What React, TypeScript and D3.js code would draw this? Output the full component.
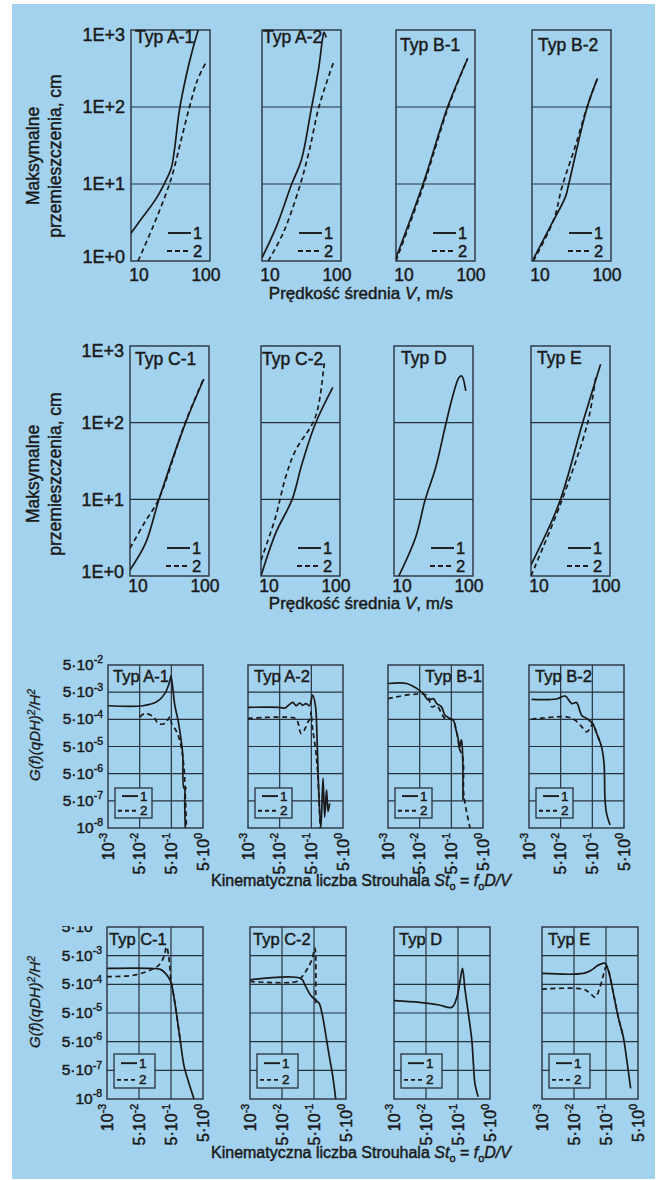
import React from "react";
import * as d3 from "d3";

const W = 658;
const H = 1180;
const BG = "#a3d2ee";
const INK = "#1a1a1a";
const GRID = "#27323d";
const FONT = "'Liberation Sans', Arial, Helvetica, sans-serif";
const TS = 0.45; // text stroke (heavier print look)

// ---------- Displacement vs. mean velocity (rows 1-2) ----------
const dispTickValues = [1, 10, 100, 1000];
const dispTickLabels = ["1E+0", "1E+1", "1E+2", "1E+3"];
const velTickValues = [10, 100];
const velTickLabels = ["10", "100"];

const dispA1_1: [number, number][] = [[10, 2.3], [14.3, 3.8], [20.9, 6.5], [27.9, 11.3], [32.3, 16], [35.5, 28], [41, 91], [49.7, 247], [60, 550], [71, 1000]];
const dispA1_2: [number, number][] = [[12.3, 1], [19, 2.8], [27.9, 7.6], [33.8, 13.8], [43, 37], [55, 100], [69.4, 224], [90, 390]];
const dispA2_1: [number, number][] = [[10, 1.1], [15.2, 2.8], [23.5, 9.7], [31.5, 20.5], [41.8, 91], [52.5, 333], [58.5, 780], [61, 930], [65, 800]];
const dispA2_2: [number, number][] = [[12, 1], [18.5, 2.3], [29.9, 9.2], [39.8, 27.6], [52.5, 100], [81, 389]];
const dispB1_1: [number, number][] = [[10, 1.1], [22, 10], [45, 100], [81, 430]];
const dispB1_2: [number, number][] = [[10, 1], [22.3, 9.6], [45.5, 97], [80, 420]];
const dispB2_1: [number, number][] = [[10.4, 1.06], [17, 2.8], [26.5, 6.8], [29, 9.7], [50, 100], [67.6, 235]];
const dispB2_2: [number, number][] = [[10.4, 1], [18.8, 3.4], [24, 9.2], [35, 30], [49, 95], [66, 224]];
const dispC1_1: [number, number][] = [[10, 1.2], [15.8, 2.7], [23.3, 10], [50.6, 100], [86, 371]];
const dispC1_2: [number, number][] = [[10, 2.3], [15, 4.8], [23, 10], [50, 100], [86, 380]];
const dispC2_1: [number, number][] = [[10, 1], [15.3, 3.6], [24.8, 10], [33, 29], [48.6, 96], [81, 288]];
const dispC2_2: [number, number][] = [[10, 1.6], [15.3, 5.9], [20.5, 19.5], [27.2, 43], [48.6, 117], [63, 576], [64, 640]];
const dispD_1: [number, number][] = [[11.5, 1], [18.8, 3.2], [24.7, 9.7], [33.7, 26], [44.3, 87], [54.8, 213], [66.5, 388], [72, 407], [81, 260]];
const dispD_2: [number, number][] = [];
const dispE_1: [number, number][] = [[10, 1.4], [22.6, 8.8], [44.6, 96], [76, 576]];
const dispE_2: [number, number][] = [[10, 1], [23.7, 8.8], [51.6, 96], [66, 388]];

// ---------- Spectra vs. Strouhal number (rows 3-4) ----------
const stTickValues = [0.005, 0.05, 0.5, 5];
const stTickLabels: [string, string][] = [["10", "-3"], ["5·10", "-2"], ["5·10", "-1"], ["5·10", "0"]];
const gTickValues = [5e-8, 5e-7, 5e-6, 5e-5, 5e-4, 5e-3, 5e-2];
const gTickLabels: [string, string][] = [["10", "-8"], ["5·10", "-7"], ["5·10", "-6"], ["5·10", "-5"], ["5·10", "-4"], ["5·10", "-3"], ["5·10", "-2"]];

const specA1_1: [number, number][] = [[0.005, 1.58e-3], [0.063, 1.58e-3], [0.173, 2.2e-3], [0.315, 4.5e-3], [0.456, 1.38e-2], [0.489, 2e-2], [0.644, 1.66e-3], [0.83, 4.1e-4], [1.0, 1e-4], [1.15, 2.4e-5], [1.26, 1.44e-6], [1.45, 1.5e-6], [1.38, 1.3e-6], [1.38, 5e-8]];
const specA1_2: [number, number][] = [[0.051, 6.2e-4], [0.074, 8.3e-4], [0.135, 6.2e-4], [0.195, 3.5e-4], [0.315, 3.5e-4], [0.456, 6.2e-4], [0.51, 3.5e-4], [0.74, 1.73e-4], [1.0, 5.6e-5], [1.26, 7.7e-6], [1.38, 8.1e-7], [1.5, 5e-8]];
const specA2_1: [number, number][] = [[0.005, 1.38e-3], [0.05, 1.38e-3], [0.072, 1.3e-3], [0.102, 1.77e-3], [0.13, 2.1e-3], [0.166, 1.58e-3], [0.213, 2e-3], [0.269, 1.66e-3], [0.338, 1.9e-3], [0.435, 1.58e-3], [0.548, 3.9e-3], [0.674, 1.58e-3], [0.757, 1e-4], [0.85, 1.44e-6], [1.0, 5e-8], [1.17, 3.4e-6], [1.32, 1.26e-7], [1.51, 1.26e-6], [1.69, 2e-7], [1.9, 4e-7]];
const specA2_2: [number, number][] = [[0.005, 5.4e-4], [0.158, 5.4e-4], [0.186, 4e-4], [0.239, 1.5e-4], [0.301, 2e-4], [0.388, 4e-4], [0.467, 5.4e-4], [0.489, 9.5e-4], [0.548, 2.29e-4], [0.674, 4.3e-5], [0.79, 5.9e-6], [0.89, 3.5e-7], [0.95, 5e-8]];
const specB1_1: [number, number][] = [[0.005, 1.04e-2], [0.0195, 1.04e-2], [0.04, 6.9e-3], [0.064, 4.5e-3], [0.093, 2.56e-3], [0.135, 2.9e-3], [0.173, 1.9e-3], [0.245, 1.44e-3], [0.315, 7.1e-4], [0.456, 5.4e-4], [0.574, 4.7e-4], [0.706, 2e-4], [0.83, 8.7e-5], [0.89, 4.3e-5], [1.04, 8.7e-5], [1.12, 3.7e-5], [1.17, 5.4e-7]];
const specB1_2: [number, number][] = [[0.005, 2.9e-3], [0.083, 3.9e-3], [0.12, 1.44e-3], [0.173, 1.58e-3], [0.315, 5.4e-4], [0.574, 4.7e-4], [0.706, 2e-4], [0.83, 8.7e-5], [0.89, 4.3e-5], [1.15, 2e-5], [1.22, 1e-6], [1.35, 4e-7], [1.95, 5e-8]];
const specB2_1: [number, number][] = [[0.006, 2.7e-3], [0.037, 2.8e-3], [0.069, 3.6e-3], [0.112, 1.9e-3], [0.158, 2.1e-3], [0.229, 7.1e-4], [0.33, 5.4e-4], [0.51, 3.5e-4], [0.69, 1.5e-4], [0.975, 4.9e-5], [1.17, 1.2e-5], [1.26, 5.4e-7], [1.41, 1.7e-7], [1.82, 6.4e-8]];
const specB2_2: [number, number][] = [[0.006, 5e-4], [0.077, 6.2e-4], [0.141, 4.7e-4], [0.256, 2.34e-4], [0.33, 1.73e-4], [0.446, 2.6e-4], [0.51, 3.5e-4], [0.69, 1.5e-4], [0.975, 4.9e-5]];
const specC1_1: [number, number][] = [[0.005, 1.8e-3], [0.115, 1.8e-3], [0.234, 1.66e-3], [0.338, 1.2e-3], [0.489, 6.2e-4], [0.615, 1.86e-4], [0.79, 2.9e-5], [1.0, 4.4e-6], [1.29, 6.7e-7], [1.82, 1.77e-7], [2.62, 5e-8]];
const specC1_2: [number, number][] = [[0.005, 9.3e-4], [0.0338, 1.04e-3], [0.115, 1.58e-3], [0.208, 2.34e-3], [0.301, 4.6e-3], [0.362, 1.02e-2], [0.425, 4.6e-3], [0.5, 7.1e-4], [0.615, 1.86e-4], [0.79, 2.9e-5], [1.0, 4.4e-6]];
const specC2_1: [number, number][] = [[0.005, 7.1e-4], [0.19, 8.1e-4], [0.275, 4.2e-4], [0.388, 2.13e-4], [0.56, 1.41e-4], [0.723, 1.1e-4], [0.91, 4.3e-5], [1.17, 8.5e-6], [1.48, 1.7e-6], [1.9, 3.5e-7], [2.39, 5e-8]];
const specC2_2: [number, number][] = [[0.005, 6.3e-4], [0.144, 6.3e-4], [0.213, 9.3e-4], [0.294, 1.58e-3], [0.425, 3.5e-3], [0.536, 9.1e-3], [0.56, 1.1e-4]];
const specD_1: [number, number][] = [[0.005, 1.35e-4], [0.0316, 1.17e-4], [0.128, 9.5e-5], [0.323, 7.9e-5], [0.467, 1.86e-4], [0.587, 7.1e-4], [0.69, 1.8e-3], [0.83, 3.2e-4], [1.09, 3.7e-5], [1.35, 5.7e-6], [1.51, 8.9e-7], [1.69, 1.77e-7], [2.13, 6e-8]];
const specD_2: [number, number][] = [];
const specE_1: [number, number][] = [[0.005, 1.2e-3], [0.097, 1.2e-3], [0.177, 1.58e-3], [0.288, 2.34e-3], [0.467, 2.7e-3], [0.587, 1.58e-3], [0.85, 2.45e-4], [1.2, 3.7e-5], [1.73, 7.4e-6], [2.23, 1.15e-6], [2.94, 1.17e-7]];
const specE_2: [number, number][] = [[0.005, 3.4e-4], [0.097, 3.4e-4], [0.158, 2.45e-4], [0.229, 1.77e-4], [0.323, 3.9e-4], [0.416, 1.07e-3], [0.5, 2.04e-3], [0.587, 1.58e-3], [0.85, 2.45e-4], [1.2, 3.7e-5], [1.73, 7.4e-6]];

type Pt = [number, number];

const dispRows = [
  {
    top: 30, bottom: 261, lefts: [131, 262, 396, 532], width: 79, tickDy: 20, titleY: 299, yTitleY: 156,
    panels: [
      { name: "Typ A-1", s1: dispA1_1, s2: dispA1_2, tx: 4, ty: 13 },
      { name: "Typ A-2", s1: dispA2_1, s2: dispA2_2, tx: 1, ty: 13 },
      { name: "Typ B-1", s1: dispB1_1, s2: dispB1_2, tx: 4, ty: 21 },
      { name: "Typ B-2", s1: dispB2_1, s2: dispB2_2, tx: 6, ty: 21 },
    ],
  },
  {
    top: 346, bottom: 576, lefts: [130, 261, 394, 531], width: 79, tickDy: 16, titleY: 609, yTitleY: 474,
    panels: [
      { name: "Typ C-1", s1: dispC1_1, s2: dispC1_2, tx: 5, ty: 19 },
      { name: "Typ C-2", s1: dispC2_1, s2: dispC2_2, tx: 1, ty: 19 },
      { name: "Typ D", s1: dispD_1, s2: dispD_2, tx: 7, ty: 18 },
      { name: "Typ E", s1: dispE_1, s2: dispE_2, tx: 6, ty: 18 },
    ],
  },
];

const specRows = [
  {
    top: 665, bottom: 828, lefts: [108, 248, 388, 529], width: 95, titleY: 886, yTitleY: 735,
    legend: { dx: 7, dy: -40, w: 37, h: 30 }, clipTop: 0,
    panels: [
      { name: "Typ A-1", s1: specA1_1, s2: specA1_2, tx: 5, ty: 17 },
      { name: "Typ A-2", s1: specA2_1, s2: specA2_2, tx: 6, ty: 17 },
      { name: "Typ B-1", s1: specB1_1, s2: specB1_2, tx: 37, ty: 17 },
      { name: "Typ B-2", s1: specB2_1, s2: specB2_2, tx: 6, ty: 17 },
    ],
  },
  {
    top: 927, bottom: 1099, lefts: [107, 250, 394, 542], width: 96, titleY: 1158, yTitleY: 1002,
    legend: { dx: 7, dy: -45, w: 41, h: 34 }, clipTop: 926,
    panels: [
      { name: "Typ C-1", s1: specC1_1, s2: specC1_2, tx: 2, ty: 18 },
      { name: "Typ C-2", s1: specC2_1, s2: specC2_2, tx: 3, ty: 18 },
      { name: "Typ D", s1: specD_1, s2: specD_2, tx: 5, ty: 18 },
      { name: "Typ E", s1: specE_1, s2: specE_2, tx: 6, ty: 18 },
    ],
  },
];

const DASH = "5,3.5";
const LW = 1.7;

function makeLine(x: d3.ScaleLogarithmic<number, number>, y: d3.ScaleLogarithmic<number, number>) {
  return d3
    .line<Pt>()
    .x((d) => x(d[0]))
    .y((d) => y(d[1]))
    .curve(d3.curveCatmullRom.alpha(0.5));
}

function T(props: any) {
  return <text fill={INK} stroke={INK} strokeWidth={TS} {...props} />;
}

function DispPanel({ row, p, i, clipId }: any) {
  const left = row.lefts[i];
  const right = left + row.width;
  const x = d3.scaleLog().domain([10, 100]).range([left, right]);
  const y = d3.scaleLog().domain([1, 1000]).range([row.bottom, row.top]);
  const line = makeLine(x, y);
  return (
    <g>
      <clipPath id={clipId}>
        <rect x={left} y={row.top} width={row.width} height={row.bottom - row.top} />
      </clipPath>
      {dispTickValues.slice(1, -1).map((v) => (
        <line key={v} x1={left} x2={right} y1={y(v)} y2={y(v)} stroke={GRID} strokeWidth={1.2} />
      ))}
      <rect x={left} y={row.top} width={row.width} height={row.bottom - row.top} fill="none" stroke={GRID} strokeWidth={1.4} />
      <g clipPath={`url(#${clipId})`}>
        {p.s1.length > 0 && <path d={line(p.s1) || ""} fill="none" stroke={INK} strokeWidth={LW} />}
        {p.s2.length > 0 && <path d={line(p.s2) || ""} fill="none" stroke={INK} strokeWidth={LW} strokeDasharray={DASH} />}
      </g>
      <T x={left + p.tx} y={row.top + p.ty} fontSize={17.5}>{p.name}</T>
      {/* legend */}
      <line x1={right - 42} x2={right - 19} y1={row.bottom - 28} y2={row.bottom - 28} stroke={INK} strokeWidth={1.9} />
      <T x={right - 17} y={row.bottom - 22} fontSize={16.5}>1</T>
      <line x1={right - 43} x2={right - 19} y1={row.bottom - 10} y2={row.bottom - 10} stroke={INK} strokeWidth={1.9} strokeDasharray="5,3" />
      <T x={right - 17} y={row.bottom - 4} fontSize={16.5}>2</T>
      {/* x ticks */}
      {velTickValues.map((v, k) => (
        <T key={v} x={x(v) + (k === 0 ? 8 : -4)} y={row.bottom + row.tickDy} fontSize={17.5} textAnchor="middle">
          {velTickLabels[k]}
        </T>
      ))}
      {i === 0 &&
        dispTickValues.map((v, k) => (
          <T
            key={v}
            x={left - 6}
            y={Math.min(Math.max(y(v), row.top + 5), row.bottom - 4)}
            dy="0.35em"
            fontSize={18}
            textAnchor="end"
          >
            {dispTickLabels[k]}
          </T>
        ))}
    </g>
  );
}

function SupText({ parts, size, supSize, ...rest }: any) {
  return (
    <text fill={INK} stroke={INK} strokeWidth={TS} {...rest} fontSize={size}>
      {parts[0]}
      <tspan dy={-size * 0.42} fontSize={supSize}>{parts[1]}</tspan>
    </text>
  );
}

function SpecPanel({ row, p, i, clipId }: any) {
  const left = row.lefts[i];
  const right = left + row.width;
  const x = d3.scaleLog().domain([stTickValues[0], stTickValues[stTickValues.length - 1]]).range([left, right]);
  const y = d3.scaleLog().domain([gTickValues[0], gTickValues[gTickValues.length - 1]]).range([row.bottom, row.top]);
  const line = makeLine(x, y);
  const lg = row.legend;
  const bx = left + lg.dx;
  const by = row.bottom + lg.dy;
  const r1 = by + lg.h * 0.27;
  const r2 = by + lg.h * 0.76;
  return (
    <g>
      <clipPath id={clipId}>
        <rect x={left} y={row.top - 1} width={row.width} height={row.bottom - row.top + 1} />
      </clipPath>
      {gTickValues.slice(1, -1).map((v) => (
        <line key={v} x1={left} x2={right} y1={y(v)} y2={y(v)} stroke={GRID} strokeWidth={1.2} />
      ))}
      {stTickValues.slice(1, -1).map((v) => (
        <line key={v} x1={x(v)} x2={x(v)} y1={row.top} y2={row.bottom} stroke={GRID} strokeWidth={1.2} />
      ))}
      <rect x={left} y={row.top} width={row.width} height={row.bottom - row.top} fill="none" stroke={GRID} strokeWidth={1.4} />
      <T x={left + p.tx} y={row.top + p.ty} fontSize={16.5}>{p.name}</T>
      <g clipPath={`url(#${clipId})`}>
        {p.s2.length > 0 && <path d={line(p.s2) || ""} fill="none" stroke={INK} strokeWidth={LW} strokeDasharray={DASH} />}
        {p.s1.length > 0 && <path d={line(p.s1) || ""} fill="none" stroke={INK} strokeWidth={LW} />}
      </g>
      {/* legend box */}
      <rect x={bx} y={by} width={lg.w} height={lg.h} fill={BG} stroke={GRID} strokeWidth={1.3} />
      <line x1={bx + 7} x2={bx + 23} y1={r1} y2={r1} stroke={INK} strokeWidth={1.9} />
      <T x={bx + 25} y={r1 + 4.5} fontSize={13.5}>1</T>
      <line x1={bx + 3} x2={bx + 23} y1={r2} y2={r2} stroke={INK} strokeWidth={1.9} strokeDasharray="4,3" />
      <T x={bx + 25} y={r2 + 4.5} fontSize={13.5}>2</T>
      {/* rotated x tick labels */}
      {stTickValues.map((v, k) => (
        <g key={v} transform={`translate(${x(v) + 5.5},${row.bottom + 5}) rotate(-90)`}>
          <SupText parts={stTickLabels[k]} size={16} supSize={10.5} textAnchor="end" />
        </g>
      ))}
      {i === 0 &&
        gTickValues.map((v, k) => (
          <g key={v} clipPath={row.clipTop ? `url(#${clipId}-lab)` : undefined}>
            <SupText parts={gTickLabels[k]} size={15.5} supSize={10.5} x={left - 5} y={y(v) + 5} textAnchor="end" />
          </g>
        ))}
      {i === 0 && row.clipTop > 0 && (
        <clipPath id={`${clipId}-lab`}>
          <rect x={0} y={row.clipTop} width={left} height={300} />
        </clipPath>
      )}
    </g>
  );
}

export default function App() {
  return (
    <svg
      width={W}
      height={H}
      viewBox={`0 0 ${W} ${H}`}
      style={{ position: "absolute", left: 0, top: 0, background: "#ffffff" }}
      fontFamily={FONT}
    >
      <rect x={12} y={4} width={643} height={1175} fill={BG} />
      {dispRows.map((row, r) => (
        <g key={`d${r}`}>
          <g transform={`translate(0,${row.yTitleY}) rotate(-90)`}>
            <T x={0} y={39} textAnchor="middle" fontSize={17.5}>Maksymalne</T>
            <T x={0} y={61} textAnchor="middle" fontSize={17.5}>przemieszczenia, cm</T>
          </g>
          {row.panels.map((p, i) => (
            <DispPanel key={p.name} row={row} p={p} i={i} clipId={`dclip${r}${i}`} />
          ))}
          <T x={361} y={row.titleY} textAnchor="middle" fontSize={17}>
            Prędkość średnia <tspan fontStyle="italic">V</tspan>, m/s
          </T>
        </g>
      ))}
      {specRows.map((row, r) => (
        <g key={`s${r}`}>
          <g transform={`translate(35,${row.yTitleY}) rotate(-90)`}>
            <T x={0} y={5} textAnchor="middle" fontSize={15} fontStyle="italic" strokeWidth={0.3}>
              G(f)(qDH)<tspan dy={-5} fontSize={10}>2</tspan><tspan dy={5}>/H</tspan><tspan dy={-5} fontSize={10}>2</tspan>
            </T>
          </g>
          {row.panels.map((p, i) => (
            <SpecPanel key={p.name} row={row} p={p} i={i} clipId={`sclip${r}${i}`} />
          ))}
          <T x={361} y={row.titleY} textAnchor="middle" fontSize={16}>
            Kinematyczna liczba Strouhala <tspan fontStyle="italic">St</tspan>
            <tspan dy={4} fontSize={11}>o</tspan>
            <tspan dy={-4}> = </tspan>
            <tspan fontStyle="italic">f</tspan>
            <tspan dy={4} fontSize={11}>o</tspan>
            <tspan dy={-4} fontStyle="italic">D/V</tspan>
          </T>
        </g>
      ))}
    </svg>
  );
}
